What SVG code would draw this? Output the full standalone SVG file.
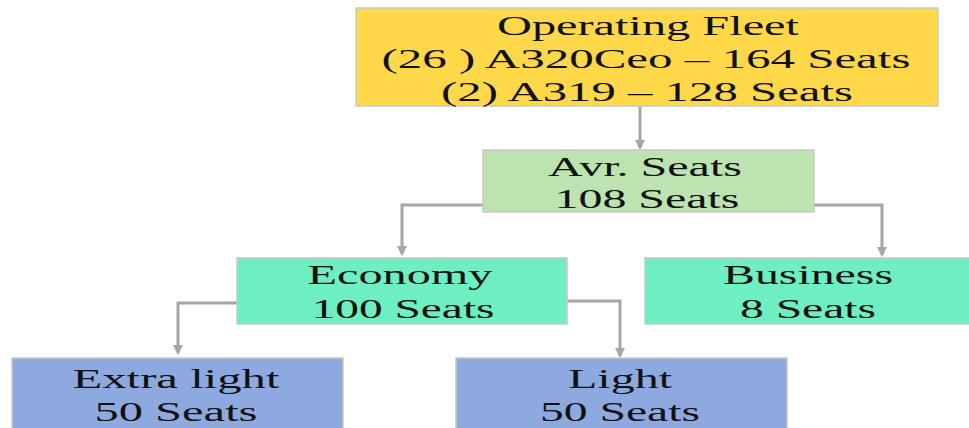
<svg xmlns="http://www.w3.org/2000/svg" width="969" height="428" viewBox="0 0 969 428">
<style>
.box{stroke:#C8C8C8;stroke-width:1.5}
.t{font-family:"Liberation Serif","Times New Roman",serif;font-size:28px;fill:#111;text-anchor:middle}
.c{fill:none;stroke:#A6A6A6;stroke-width:3}
</style>
<defs>
<marker id="ah" viewBox="0 0 10 10" refX="8" refY="5" markerWidth="3.5" markerHeight="3.5" orient="auto" markerUnits="strokeWidth">
<path d="M0,0 L10,5 L0,10 z" fill="#A6A6A6"/>
</marker>
</defs>
<rect width="969" height="428" fill="#fff"/>
<g id="connectors">
<path class="c" d="M640,106 V148" marker-end="url(#ah)"/>
<path class="c" d="M483,205 H402 V254" marker-end="url(#ah)"/>
<path class="c" d="M814,205 H882 V255" marker-end="url(#ah)"/>
<path class="c" d="M237,303 H178 V353" marker-end="url(#ah)"/>
<path class="c" d="M567,301 H620 V356" marker-end="url(#ah)"/>
</g>
<g id="fleet">
<rect class="box" x="356" y="8" width="582" height="98" fill="#FFD84A"/>
<text class="t" x="648" y="35" textLength="302" lengthAdjust="spacingAndGlyphs">Operating Fleet</text>
<text class="t" x="646" y="68" textLength="529" lengthAdjust="spacingAndGlyphs">(26 ) A320Ceo – 164 Seats</text>
<text class="t" x="647" y="101" textLength="412" lengthAdjust="spacingAndGlyphs">(2) A319 – 128 Seats</text>
</g>
<g id="avr">
<rect class="box" x="483" y="150" width="331" height="62" fill="#BDE3B0"/>
<text class="t" x="645" y="176" textLength="194" lengthAdjust="spacingAndGlyphs">Avr. Seats</text>
<text class="t" x="647" y="208" textLength="185" lengthAdjust="spacingAndGlyphs">108 Seats</text>
</g>
<g id="economy">
<rect class="box" x="237" y="258" width="330" height="66" fill="#6EEFC2"/>
<text class="t" x="400" y="284" textLength="185" lengthAdjust="spacingAndGlyphs">Economy</text>
<text class="t" x="403" y="318" textLength="183" lengthAdjust="spacingAndGlyphs">100 Seats</text>
</g>
<g id="business">
<rect class="box" x="645" y="258" width="330" height="66" fill="#6EEFC2"/>
<text class="t" x="808" y="284" textLength="170" lengthAdjust="spacingAndGlyphs">Business</text>
<text class="t" x="808" y="318" textLength="136" lengthAdjust="spacingAndGlyphs">8 Seats</text>
</g>
<g id="extralight">
<rect class="box" x="12" y="358" width="331" height="80" fill="#8EA9E0"/>
<text class="t" x="176" y="388" textLength="207" lengthAdjust="spacingAndGlyphs">Extra light</text>
<text class="t" x="176" y="421" textLength="163" lengthAdjust="spacingAndGlyphs">50 Seats</text>
</g>
<g id="light">
<rect class="box" x="456" y="358" width="331" height="80" fill="#8EA9E0"/>
<text class="t" x="620" y="388" textLength="104" lengthAdjust="spacingAndGlyphs">Light</text>
<text class="t" x="620" y="421" textLength="160" lengthAdjust="spacingAndGlyphs">50 Seats</text>
</g>
</svg>
